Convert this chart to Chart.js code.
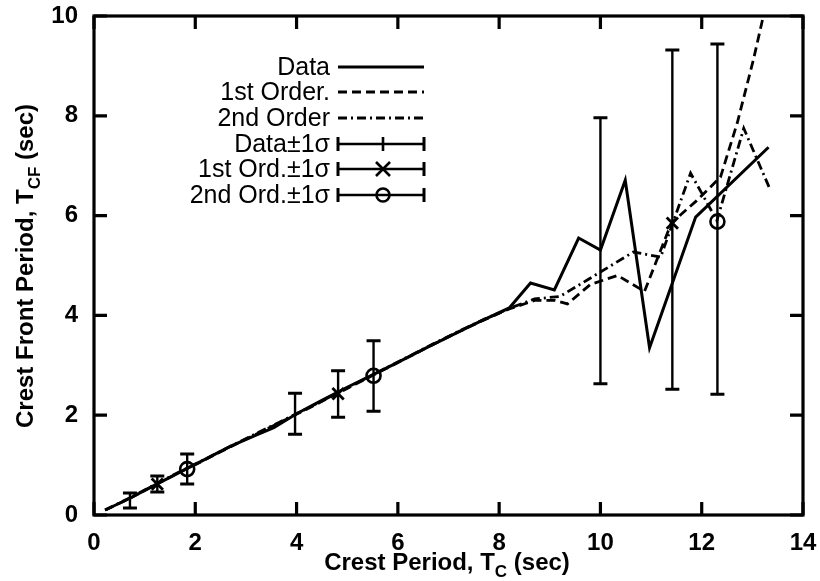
<!DOCTYPE html>
<html>
<head>
<meta charset="utf-8">
<script src="https://cdn.jsdelivr.net/npm/chart.js@4.4.1/dist/chart.umd.min.js"></script>
<style>
  html, body { margin: 0; padding: 0; background: #fff; }
</style>
</head>
<body>
<canvas id="crestChart" width="820" height="581"></canvas>
<script>
// axis ticks
const xTicks = [0, 2, 4, 6, 8, 10, 12, 14];
const yTicks = [0, 2, 4, 6, 8, 10];

// measured data (solid)
const dataX = [0.22, 0.7, 1.2, 1.7, 2.2, 2.7, 3.2, 3.55, 4.0, 4.5, 5.0, 5.5, 6.0, 6.5, 7.0, 7.5, 8.2, 8.62, 9.09, 9.57, 10.0, 10.49, 10.97, 11.88, 13.32];
const dataY = [0.1, 0.33, 0.6, 0.86, 1.12, 1.38, 1.6, 1.75, 2.03, 2.3, 2.56, 2.81, 3.06, 3.32, 3.57, 3.82, 4.15, 4.65, 4.51, 5.55, 5.31, 6.71, 3.35, 5.97, 7.37];

// 1st order (dashed)
const ord1X = [0.22, 0.7, 1.2, 1.7, 2.2, 2.7, 3.2, 3.7, 4.2, 4.7, 5.2, 5.7, 6.2, 6.7, 7.2, 7.7, 8.2, 8.7, 9.1, 9.35, 9.8, 10.34, 10.87, 11.4, 11.9, 12.37, 12.7, 13.02, 13.24];
const ord1Y = [0.1, 0.33, 0.6, 0.86, 1.11, 1.37, 1.62, 1.87, 2.12, 2.38, 2.64, 2.9, 3.16, 3.42, 3.67, 3.91, 4.13, 4.3, 4.3, 4.23, 4.62, 4.8, 4.48, 5.85, 6.3, 6.77, 7.85, 9.12, 10.1];

// 2nd order (dash-dot)
const ord2X = [0.22, 0.7, 1.2, 1.7, 2.2, 2.7, 3.2, 3.7, 4.2, 4.7, 5.2, 5.7, 6.2, 6.7, 7.2, 7.7, 8.2, 8.7, 9.2, 9.74, 10.65, 11.19, 11.78, 12.0, 12.3, 12.83, 13.36];
const ord2Y = [0.1, 0.34, 0.61, 0.87, 1.12, 1.38, 1.63, 1.88, 2.13, 2.39, 2.65, 2.91, 3.17, 3.43, 3.68, 3.92, 4.14, 4.33, 4.38, 4.71, 5.27, 5.17, 6.85, 6.45, 5.9, 7.75, 6.5];

// error bars: centre, low, high
const dataBarX = [0.71, 3.97, 10.0];
const dataBarY = [0.3, 2.03, 5.3];
const dataBarLo = [0.14, 1.62, 2.63];
const dataBarHi = [0.44, 2.44, 7.96];

const ord1BarX = [1.25, 4.82, 11.42];
const ord1BarY = [0.62, 2.43, 5.85];
const ord1BarLo = [0.46, 1.96, 2.52];
const ord1BarHi = [0.78, 2.89, 9.32];

const ord2BarX = [1.84, 5.52, 12.31];
const ord2BarY = [0.92, 2.79, 5.88];
const ord2BarLo = [0.62, 2.08, 2.42];
const ord2BarHi = [1.22, 3.49, 9.44];

const legendLabels = ["Data", "1st Order.", "2nd Order", "Data\u00b11\u03c3", "1st Ord.\u00b11\u03c3", "2nd Ord.\u00b11\u03c3"];

const FONT = '"Liberation Sans", Arial, Helvetica, sans-serif';

function pts(xs, ys) {
    return xs.map((x, i) => ({ x: x, y: ys[i] }));
}

function drawErrorBars(chart, xs, lo, hi) {
    const ctx = chart.ctx;
    const sx = chart.scales.x, sy = chart.scales.y;
    ctx.save();
    ctx.strokeStyle = '#000';
    xs.forEach((x, i) => {
        const px = sx.getPixelForValue(x);
        const pLo = sy.getPixelForValue(lo[i]);
        const pHi = sy.getPixelForValue(hi[i]);
        ctx.lineWidth = 2.4;
        ctx.beginPath();
        ctx.moveTo(px, pLo); ctx.lineTo(px, pHi);
        ctx.stroke();
        ctx.lineWidth = 3;
        ctx.beginPath();
        ctx.moveTo(px - 7, pLo); ctx.lineTo(px + 7, pLo);
        ctx.moveTo(px - 7, pHi); ctx.lineTo(px + 7, pHi);
        ctx.stroke();
    });
    ctx.restore();
}

const errorBarPlugin = {
    id: 'errorBars',
    afterDatasetsDraw(chart) {
        drawErrorBars(chart, dataBarX, dataBarLo, dataBarHi);
        drawErrorBars(chart, ord1BarX, ord1BarLo, ord1BarHi);
        drawErrorBars(chart, ord2BarX, ord2BarLo, ord2BarHi);
    }
};

// frame with inward ticks on all four sides, axis titles, legend
const framePlugin = {
    id: 'frame',
    afterDraw(chart) {
        const ctx = chart.ctx;
        const a = chart.chartArea;
        const sx = chart.scales.x, sy = chart.scales.y;
        ctx.save();
        ctx.strokeStyle = '#000';
        ctx.lineWidth = 3.2;
        ctx.strokeRect(a.left, a.top, a.right - a.left, a.bottom - a.top);
        ctx.beginPath();
        xTicks.forEach(v => {
            const px = sx.getPixelForValue(v);
            ctx.moveTo(px, a.bottom); ctx.lineTo(px, a.bottom - 13);
            ctx.moveTo(px, a.top); ctx.lineTo(px, a.top + 13);
        });
        yTicks.forEach(v => {
            const py = sy.getPixelForValue(v);
            ctx.moveTo(a.left, py); ctx.lineTo(a.left + 13, py);
            ctx.moveTo(a.right, py); ctx.lineTo(a.right - 13, py);
        });
        ctx.stroke();

        // axis titles
        ctx.fillStyle = '#000';
        ctx.textBaseline = 'alphabetic';
        const big = 'bold 24px ' + FONT, small = 'bold 17px ' + FONT;

        function titleWidth(parts) {
            let w = 0;
            parts.forEach(p => { ctx.font = p[1] ? small : big; w += ctx.measureText(p[0]).width; });
            return w;
        }
        function drawTitle(parts, cx, base) {
            let x = cx - titleWidth(parts) / 2;
            ctx.textAlign = 'left';
            parts.forEach(p => {
                ctx.font = p[1] ? small : big;
                ctx.fillText(p[0], x, base + (p[1] ? 7 : 0));
                x += ctx.measureText(p[0]).width;
            });
        }
        drawTitle([["Crest Period, T", false], ["C", true], [" (sec)", false]], 447, 570);
        ctx.save();
        ctx.translate(33, 266);
        ctx.rotate(-Math.PI / 2);
        drawTitle([["Crest Front Period, T", false], ["CF", true], [" (sec)", false]], 0, 0);
        ctx.restore();

        // legend
        const rowY = [67, 92, 118, 144, 169, 195];
        const textRight = 330, l0 = 338, l1 = 424, mid = 383;
        ctx.font = '25px ' + FONT;
        ctx.textAlign = 'right';
        ctx.textBaseline = 'middle';
        legendLabels.forEach((t, i) => ctx.fillText(t, textRight, rowY[i] + 1));

        ctx.lineWidth = 2.8;
        const dashes = [[], [9, 5], [9, 4, 2, 4]];
        for (let i = 0; i < 3; i++) {
            ctx.setLineDash(dashes[i]);
            ctx.beginPath();
            ctx.moveTo(l0, rowY[i]); ctx.lineTo(l1, rowY[i]);
            ctx.stroke();
        }
        ctx.setLineDash([]);
        for (let i = 3; i < 6; i++) {
            const y = rowY[i];
            ctx.lineWidth = 2.4;
            ctx.beginPath();
            ctx.moveTo(l0, y); ctx.lineTo(l1, y);
            ctx.stroke();
            ctx.lineWidth = 3;
            ctx.beginPath();
            ctx.moveTo(l0, y - 7); ctx.lineTo(l0, y + 7);
            ctx.moveTo(l1, y - 7); ctx.lineTo(l1, y + 7);
            ctx.stroke();
            ctx.lineWidth = 2.6;
            ctx.beginPath();
            if (i === 3) {
                ctx.moveTo(mid, y - 7); ctx.lineTo(mid, y + 7);
            } else if (i === 4) {
                ctx.moveTo(mid - 7, y - 7); ctx.lineTo(mid + 7, y + 7);
                ctx.moveTo(mid - 7, y + 7); ctx.lineTo(mid + 7, y - 7);
            } else {
                ctx.arc(mid, y, 6.5, 0, Math.PI * 2);
            }
            ctx.stroke();
        }
        ctx.restore();
    }
};

const ctx = document.getElementById('crestChart').getContext('2d');

// invisible tick marks only push the labels away from the frame
const hiddenGrid = len => ({ display: true, drawOnChartArea: false, drawTicks: true, tickLength: len, color: 'rgba(0,0,0,0)' });

const crestChart = new Chart(ctx, {
    type: 'scatter',
    data: {
        datasets: [
            {
                label: 'Data',
                data: pts(dataX, dataY),
                showLine: true,
                borderColor: '#000',
                borderWidth: 3,
                pointRadius: 0,
                tension: 0
            },
            {
                label: '1st Order.',
                data: pts(ord1X, ord1Y),
                showLine: true,
                borderColor: '#000',
                borderWidth: 2.8,
                borderDash: [9, 5],
                pointRadius: 0,
                tension: 0
            },
            {
                label: '2nd Order',
                data: pts(ord2X, ord2Y),
                showLine: true,
                borderColor: '#000',
                borderWidth: 2.8,
                borderDash: [9, 4, 2, 4],
                pointRadius: 0,
                tension: 0
            },
            {
                label: 'Data\u00b11\u03c3',
                data: pts(dataBarX, dataBarY),
                pointStyle: 'line',
                pointRadius: 0,
                borderColor: '#000'
            },
            {
                label: '1st Ord.\u00b11\u03c3',
                data: pts(ord1BarX, ord1BarY),
                pointStyle: 'crossRot',
                pointRadius: 8,
                pointBorderWidth: 2.8,
                pointBorderColor: '#000',
                pointBackgroundColor: 'rgba(0,0,0,0)'
            },
            {
                label: '2nd Ord.\u00b11\u03c3',
                data: pts(ord2BarX, ord2BarY),
                pointStyle: 'circle',
                pointRadius: 7,
                pointBorderWidth: 2.6,
                pointBorderColor: '#000',
                pointBackgroundColor: 'rgba(0,0,0,0)'
            }
        ]
    },
    options: {
        responsive: false,
        animation: false,
        events: [],
        layout: { padding: { top: 16, right: 17, left: 0, bottom: 0 } },
        plugins: {
            legend: { display: false },
            tooltip: { enabled: false }
        },
        scales: {
            x: {
                type: 'linear',
                min: 0,
                max: 14,
                afterBuildTicks: s => { s.ticks = xTicks.map(v => ({ value: v })); },
                afterFit: s => { s.height = 66; },
                grid: hiddenGrid(14),
                border: { display: false },
                ticks: { padding: 0, color: '#000', font: { family: FONT, size: 24, weight: 'bold' } }
            },
            y: {
                type: 'linear',
                min: 0,
                max: 10,
                afterBuildTicks: s => { s.ticks = yTicks.map(v => ({ value: v })); },
                afterFit: s => { s.width = 94; },
                grid: hiddenGrid(16),
                border: { display: false },
                ticks: { padding: 0, color: '#000', font: { family: FONT, size: 24, weight: 'bold' } }
            }
        }
    },
    plugins: [errorBarPlugin, framePlugin]
});
</script>
</body>
</html>
